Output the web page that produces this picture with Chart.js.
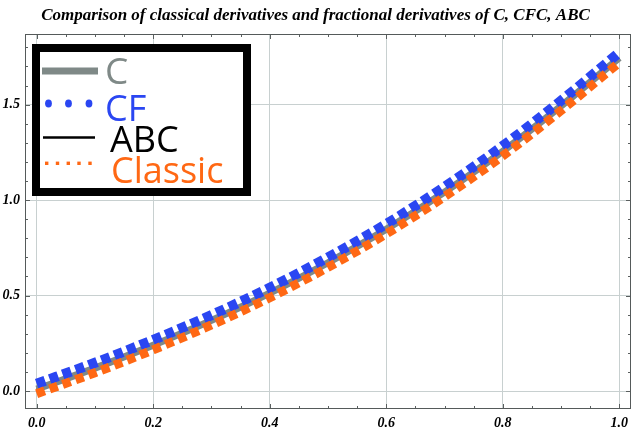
<!DOCTYPE html>
<html><head><meta charset="utf-8">
<script src="https://cdn.jsdelivr.net/npm/chart.js@4/dist/chart.umd.min.js"></script>
<style>html,body{margin:0;padding:0;background:#fff;overflow:hidden}#wrap{width:640px;height:434px}</style>
</head><body><div id="wrap"><canvas id="c" width="640" height="434"></canvas></div>
<script>
const titleText = "Comparison of classical derivatives and fractional derivatives of C, CFC, ABC";
const seriesLabels = ["C", "CF", "ABC", "Classic"];
const xValues = [0, 0.1, 0.2, 0.3, 0.4, 0.5, 0.6, 0.7, 0.8, 0.9, 1.0];
const cValues = [0.01, 0.12, 0.24, 0.37, 0.513, 0.672, 0.847, 1.042, 1.256, 1.493, 1.745];
const cfValues = [0.038, 0.148, 0.268, 0.398, 0.541, 0.70, 0.875, 1.07, 1.284, 1.521, 1.773];
const abcValues = [0.01, 0.12, 0.24, 0.37, 0.513, 0.672, 0.847, 1.042, 1.256, 1.493, 1.745];
const classicValues = [-0.014, 0.096, 0.216, 0.346, 0.489, 0.648, 0.823, 1.018, 1.232, 1.469, 1.721];
const xTicks = [0, 0.2, 0.4, 0.6, 0.8, 1.0];
const yTicks = [0, 0.5, 1.0, 1.5];
const xMinorTicks = [0.05, 0.1, 0.15, 0.25, 0.3, 0.35, 0.45, 0.5, 0.55, 0.65, 0.7, 0.75, 0.85, 0.9, 0.95];
const yMinorTicks = [0.1, 0.2, 0.3, 0.4, 0.6, 0.7, 0.8, 0.9, 1.1, 1.2, 1.3, 1.4, 1.6, 1.7, 1.8];

const colC = '#7f8987', colCF = '#2a46f2', colABC = '#000000', colClassic = '#ff6814';
const serif = "'Liberation Serif','Times New Roman',serif";
const sans = "'Open Sans','Noto Sans',sans-serif";

function pts(ys) { return xValues.map((x, i) => ({ x: x, y: ys[i] })); }

const framePlugin = {
  id: 'frame',
  beforeDatasetsDraw(chart) {
    const ctx = chart.ctx, a = chart.chartArea, xs = chart.scales.x, ys = chart.scales.y;
    ctx.save();
    ctx.strokeStyle = '#5a5f5f';
    ctx.lineWidth = 1;
    ctx.beginPath();
    xMinorTicks.forEach(v => { const p = Math.round(xs.getPixelForValue(v)) + 0.5;
      ctx.moveTo(p, a.bottom); ctx.lineTo(p, a.bottom - 3); ctx.moveTo(p, a.top); ctx.lineTo(p, a.top + 3); });
    xTicks.forEach(v => { const p = Math.round(xs.getPixelForValue(v)) + 0.5;
      ctx.moveTo(p, a.bottom); ctx.lineTo(p, a.bottom - 5); ctx.moveTo(p, a.top); ctx.lineTo(p, a.top + 5); });
    yMinorTicks.forEach(v => { const p = Math.round(ys.getPixelForValue(v)) + 0.5;
      ctx.moveTo(a.left, p); ctx.lineTo(a.left + 3, p); ctx.moveTo(a.right, p); ctx.lineTo(a.right - 3, p); });
    yTicks.forEach(v => { const p = Math.round(ys.getPixelForValue(v)) + 0.5;
      ctx.moveTo(a.left, p); ctx.lineTo(a.left + 5, p); ctx.moveTo(a.right, p); ctx.lineTo(a.right - 5, p); });
    ctx.stroke();
    ctx.strokeStyle = '#555a5a';
    ctx.strokeRect(Math.round(a.left) + 0.5, Math.round(a.top) + 0.5, Math.round(a.right - a.left) - 1, Math.round(a.bottom - a.top) - 1);
    ctx.restore();
  }
};

const legendPlugin = {
  id: 'boxLegend',
  afterDraw(chart) {
    const ctx = chart.ctx;
    const ds = chart.data.datasets;
    ctx.save();
    ctx.fillStyle = '#fff';
    ctx.fillRect(36, 48, 211, 144);
    ctx.strokeStyle = '#000';
    ctx.lineWidth = 8;
    ctx.strokeRect(36, 48, 211, 144);
    ctx.font = "36px " + sans;
    ctx.textBaseline = 'alphabetic';
    ctx.textAlign = 'left';
    // C
    ctx.strokeStyle = ds[0].borderColor; ctx.lineWidth = 7; ctx.lineCap = 'butt';
    ctx.beginPath(); ctx.moveTo(42, 71); ctx.lineTo(98, 71); ctx.stroke();
    ctx.fillStyle = ds[0].borderColor; ctx.font = "37px " + sans; ctx.fillText(ds[0].label, 105, 83.5);
    ctx.font = "36px " + sans;
    // CF
    ctx.fillStyle = ds[1].borderColor;
    [48.5, 68.5, 89].forEach(x => { ctx.beginPath(); ctx.ellipse(x, 103.5, 3.4, 3.9, 0, 0, Math.PI * 2); ctx.fill(); });
    ctx.fillText(ds[1].label, 105, 120.5);
    // ABC
    ctx.strokeStyle = ds[2].borderColor; ctx.lineWidth = 2.6;
    ctx.beginPath(); ctx.moveTo(43, 137.5); ctx.lineTo(95, 137.5); ctx.stroke();
    ctx.fillStyle = ds[2].borderColor; ctx.fillText(ds[2].label, 110, 151.5);
    // Classic
    ctx.fillStyle = ds[3].borderColor;
    [46.7, 57.5, 68.3, 79, 90].forEach(x => { ctx.fillRect(x - 1.7, 161.6, 3.4, 3.4); });
    ctx.fillText(ds[3].label, 111, 183);
    ctx.restore();
  }
};

const tickFont = { family: serif, size: 14, style: 'italic', weight: 'bold' };

new Chart(document.getElementById('c'), {
  type: 'line',
  data: {
    datasets: [
      { label: seriesLabels[0], data: pts(cValues), borderColor: colC, borderWidth: 7, order: 3 },
      { label: seriesLabels[1], data: pts(cfValues), borderColor: colCF, borderWidth: 10, borderDash: [9, 4.8], order: 2 },
      { label: seriesLabels[2], data: pts(abcValues), borderColor: colABC, borderWidth: 1.5, order: 4 },
      { label: seriesLabels[3], data: pts(classicValues), borderColor: colClassic, borderWidth: 9, borderDash: [8.5, 5.3], order: 1 }
    ]
  },
  options: {
    responsive: false,
    animation: false,
    devicePixelRatio: 1,
    layout: { padding: { left: 0, right: 9, top: 0, bottom: 0 } },
    elements: { point: { radius: 0 }, line: { cubicInterpolationMode: 'monotone', borderCapStyle: 'butt', fill: false } },
    plugins: {
      legend: { display: false },
      tooltip: { enabled: false },
      title: { display: true, text: titleText, color: '#000',
        font: { family: serif, size: 17, style: 'italic', weight: 'bold', lineHeight: 1.2 },
        padding: { top: 5, bottom: 8.6 } }
    },
    scales: {
      x: {
        type: 'linear', min: -0.02, max: 1.02,
        afterFit(s) { s.height = 25; },
        afterBuildTicks(s) { s.ticks = xTicks.map(v => ({ value: v })); },
        grid: { color: '#c8d0d0', lineWidth: 1, drawTicks: false },
        border: { display: false },
        ticks: { font: tickFont, color: '#000', padding: 6, maxRotation: 0, autoSkip: false, callback: v => v.toFixed(1) }
      },
      y: {
        type: 'linear', min: -0.094, max: 1.87,
        afterFit(s) { s.width = 25; },
        afterBuildTicks(s) { s.ticks = yTicks.map(v => ({ value: v })); },
        grid: { color: '#c8d0d0', lineWidth: 1, drawTicks: false },
        border: { display: false },
        ticks: { font: tickFont, color: '#000', padding: 5, autoSkip: false, callback: v => v.toFixed(1) }
      }
    }
  },
  plugins: [framePlugin, legendPlugin]
});
</script></body></html>
